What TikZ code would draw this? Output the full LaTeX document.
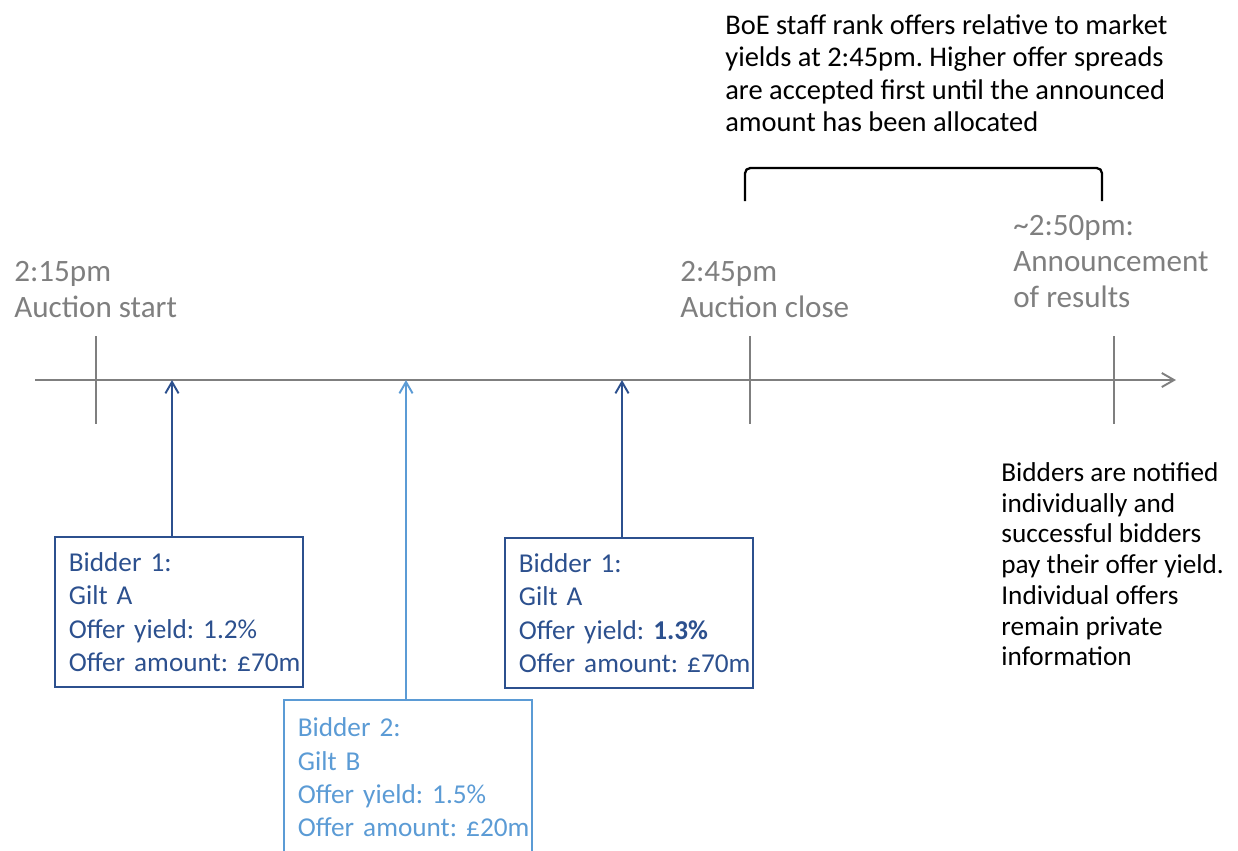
\documentclass[tikz,border=0pt]{standalone}
\usepackage{fontspec}
\setmainfont{Carlito}
\usetikzlibrary{arrows.meta}
\frenchspacing

\definecolor{axisgray}{RGB}{127,127,127}
\definecolor{bidA}{RGB}{44,80,142}
\definecolor{bidB}{RGB}{91,155,213}

\tikzset{
	timelbl/.style={anchor=north west,inner sep=0pt,align=left,text=axisgray,font=\fontsize{17.7}{20.6}\selectfont},
	notelbl/.style={anchor=north west,inner sep=0pt,align=left,text=black},
	offerbox/.style={draw,line width=1.1pt,anchor=north west,align=left,text width=141pt,inner xsep=0pt,
		minimum height=85.6pt,execute at begin node={\leftskip=7.9pt},font=\fontsize{15.5}{18.9}\selectfont},
	timetick/.style={axisgray,line width=1.1pt},
	offer/.style={line width=1.1pt,-{Straight Barb[length=6.5pt,width=7.5pt]}},
}

\begin{document}
\begin{tikzpicture}[x=0.02cm,y=-0.02cm]
	\useasboundingbox (0,0) rectangle (1238,850);
	\clip (0,0) rectangle (1238,850);

	% time line
	\coordinate (t0) at (35,380);
	\coordinate (tend) at (1176,380);
	\draw[timetick,-{Straight Barb[length=7pt,width=8pt]}] (t0) -- (tend);
	\foreach \x in {96,750,1114}
		\draw[timetick] (\x,336) -- (\x,424);

	\node[timelbl] (tstart) at (14,261) {2:15pm\\Auction start};
	\node[timelbl] (tclose) at (680,261) {2:45pm\\Auction close};
	\node[timelbl] (tresult) at (1013,215) {\textasciitilde2:50pm:\\Announcement\\of results};

	% ranking window
	\draw[line width=1.3pt,rounded corners=3pt] (745,201) -- (745,168) -- (1102,168) -- (1102,201);
	\node[notelbl,font=\fontsize{16.2}{18.5}\selectfont] (rank) at (725,14)
		{BoE staff rank offers relative to market\\yields at 2:45pm. Higher offer spreads\\are accepted first until the announced\\amount has been allocated};

	\node[notelbl,font=\fontsize{15.5}{17.5}\selectfont] (notify) at (1001,462)
		{Bidders are notified\\individually and\\successful bidders\\pay their offer yield.\\Individual offers\\remain private\\information};

	% offers
	\node[offerbox,draw=bidA,text=bidA] (bid1) at (54,536) {Bidder 1:\\Gilt A\\Offer yield: 1.2\%\\Offer amount: £70m};
	\node[offerbox,draw=bidB,text=bidB,minimum height=88pt] (bid2) at (283,699) {Bidder 2:\\Gilt B\\Offer yield: 1.5\%\\Offer amount: £20m};
	\node[offerbox,draw=bidA,text=bidA] (bid3) at (504,537) {Bidder 1:\\Gilt A\\Offer yield: \textbf{1.3\%}\\Offer amount: £70m};

	\coordinate (o1) at (172,380);
	\coordinate (o2) at (406,380);
	\coordinate (o3) at (622,380);
	\draw[offer,bidA] (o1 |- bid1.north) -- (o1);
	\draw[offer,bidB] (o2 |- bid2.north) -- (o2);
	\draw[offer,bidA] (o3 |- bid3.north) -- (o3);

\end{tikzpicture}
\end{document}
